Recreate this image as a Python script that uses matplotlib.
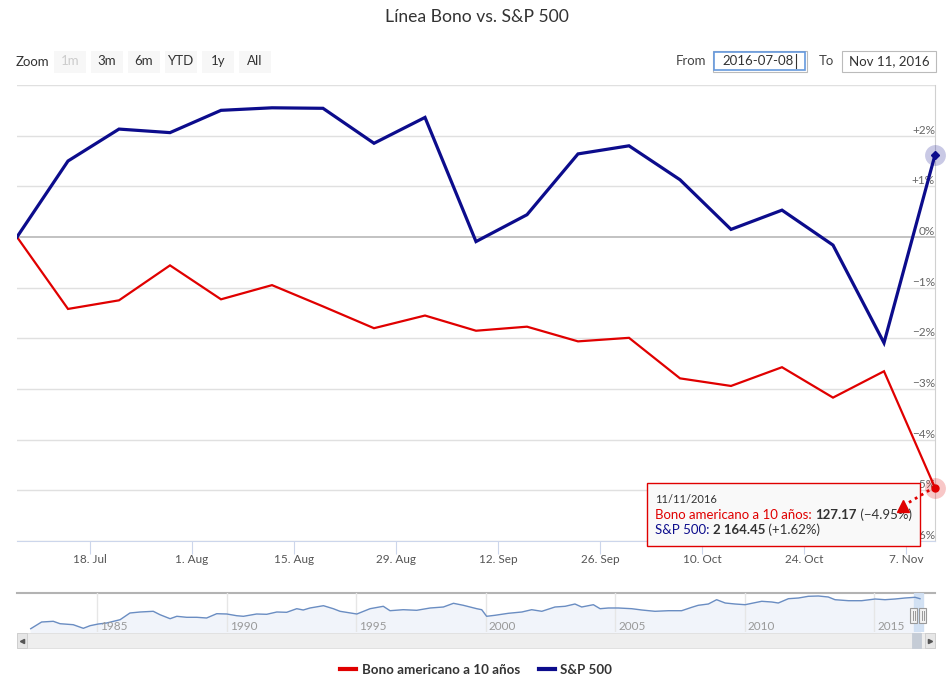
import datetime as dt
import matplotlib
matplotlib.use("Agg")
import matplotlib.pyplot as plt
from matplotlib.patches import Rectangle
from matplotlib.lines import Line2D

# ---------------- data ----------------
dates = ["2016-07-08", "2016-07-15", "2016-07-22", "2016-07-29", "2016-08-05",
         "2016-08-12", "2016-08-19", "2016-08-26", "2016-09-02", "2016-09-09",
         "2016-09-16", "2016-09-23", "2016-09-30", "2016-10-07", "2016-10-14",
         "2016-10-21", "2016-10-28", "2016-11-04", "2016-11-11"]
sp_pct = [0.00, 1.50, 2.13, 2.06, 2.50, 2.55, 2.54, 1.85, 2.36, -0.09,
          0.44, 1.64, 1.80, 1.13, 0.15, 0.53, -0.16, -2.09, 1.62]
bond_pct = [0.00, -1.42, -1.25, -0.56, -1.23, -0.95, -1.37, -1.80, -1.55, -1.85,
            -1.77, -2.06, -1.99, -2.79, -2.94, -2.57, -3.17, -2.65, -4.95]
series_names = ["Bono americano a 10 años", "S&P 500"]
last_values = ["127.17", "2 164.45"]
last_changes = [" (−4.95%)", " (+1.62%)"]
tooltip_date = "11/11/2016"

y_ticks = [-6, -5, -4, -3, -2, -1, 0, 1, 2, 3]
y_labels = ["−6%", "−5%", "−4%", "−3%", "−2%", "−1%", "0%", "+1%", "+2%", ""]
x_ticks = ["2016-07-18", "2016-08-01", "2016-08-15", "2016-08-29", "2016-09-12",
           "2016-09-26", "2016-10-10", "2016-10-24", "2016-11-07"]
x_labels = ["18. Jul", "1. Aug", "15. Aug", "29. Aug", "12. Sep",
            "26. Sep", "10. Oct", "24. Oct", "7. Nov"]

# navigator (long history, read from the small overview strip)
nav_years = [1982.43, 1982.85, 1983.30, 1983.56, 1984.07, 1984.46, 1984.72, 1985.04,
             1985.36, 1985.88, 1986.26, 1986.65, 1987.16, 1987.42, 1987.81, 1988.07,
             1988.45, 1988.84, 1989.22, 1989.61, 1990.00, 1990.38, 1990.64, 1991.15,
             1991.54, 1991.93, 1992.31, 1992.70, 1992.95, 1993.21, 1993.73, 1994.11,
             1994.37, 1995.02, 1995.53, 1996.04, 1996.30, 1996.81, 1997.33, 1997.85,
             1998.36, 1998.75, 1999.13, 1999.65, 1999.84, 2000.03, 2000.35, 2000.87,
             2001.39, 2001.77, 2002.16, 2002.67, 2003.06, 2003.44, 2003.70, 2004.15,
             2004.41, 2004.73, 2005.12, 2005.63, 2006.02, 2006.53, 2007.05, 2007.56,
             2007.95, 2008.20, 2008.59, 2008.91, 2009.24, 2009.62, 2010.01, 2010.27,
             2010.65, 2011.04, 2011.29, 2011.68, 2012.07, 2012.45, 2012.84, 2013.22,
             2013.48, 2014.00, 2014.51, 2015.03, 2015.41, 2015.80, 2016.18, 2016.57,
             2016.76]
nav_levels = [3.3, 10.0, 10.7, 8.3, 7.3, 3.7, 6.3, 8.0,
              9.0, 12.3, 19.0, 20.0, 20.7, 17.3, 13.3, 15.7,
              14.7, 14.7, 14.0, 18.3, 18.0, 16.3, 15.7, 18.0,
              17.7, 20.0, 19.7, 23.3, 22.0, 24.0, 26.3, 23.3,
              20.7, 18.0, 23.3, 25.7, 21.3, 22.3, 21.7, 24.0,
              25.0, 28.7, 26.7, 23.3, 22.3, 15.7, 16.7, 18.7,
              20.0, 22.3, 20.7, 25.0, 25.7, 28.0, 25.0, 27.3,
              23.3, 24.0, 24.0, 23.3, 22.0, 20.7, 21.3, 21.3,
              24.7, 26.7, 28.0, 32.3, 29.0, 28.0, 27.3, 28.7,
              30.7, 30.0, 29.0, 33.3, 34.0, 35.7, 36.0, 35.0,
              32.3, 31.3, 31.3, 33.0, 32.3, 33.0, 34.0, 34.7,
              33.3]
nav_year_ticks = [1985, 1990, 1995, 2000, 2005, 2010, 2015]
zoom_buttons = ["1m", "3m", "6m", "YTD", "1y", "All"]

# ---------------- style ----------------
W, H = 953, 683
RED = "#e00000"
BLUE = "#0c0c8c"
FONT = ["Lato", "DejaVu Sans"]
plt.rcParams["font.family"] = FONT

fig = plt.figure(figsize=(W / 100, H / 100), dpi=100)
fig.patch.set_facecolor("white")


def fx(x):
    return x / W


def fy(y):
    return 1 - y / H


def rect(x0, y0, x1, y1, **kw):
    r = Rectangle((fx(x0), fy(y1)), fx(x1) - fx(x0), fy(y0) - fy(y1),
                  transform=fig.transFigure, **kw)
    fig.add_artist(r)
    return r


# title
fig.text(0.5, fy(17), "Línea Bono vs. S&P 500", ha="center", va="center",
         fontsize=12.6, color="#333333")

# zoom buttons
fig.text(fx(16), fy(61.5), "Zoom", ha="left", va="center", fontsize=9.5, color="#333333")
btn_x = [(54, 86), (91, 123), (128, 160), (165, 197), (202, 234), (239, 271)]
for (x0, x1), lab in zip(btn_x, zoom_buttons):
    rect(x0, 51, x1, 73, facecolor="#f7f7f7", edgecolor="none")
    fig.text(fx((x0 + x1) / 2), fy(61), lab, ha="center", va="center", fontsize=9.5,
             color="#cccccc" if lab == "1m" else "#333333")

# range inputs
fig.text(fx(676), fy(61), "From", ha="left", va="center", fontsize=9.5, color="#444444")
rect(713, 51, 807, 72, facecolor="white", edgecolor="#bbbbbb", lw=0.8)
rect(714, 52, 805, 70, facecolor="white", edgecolor="#6699dd", lw=1.2)
fig.text(fx(722), fy(61), "2016-07-08", ha="left", va="center", fontsize=9.5, color="#333333")
fig.add_artist(Line2D([fx(796.5), fx(796.5)], [fy(54), fy(68)], color="#333333", lw=0.8,
                      transform=fig.transFigure))
fig.text(fx(819), fy(61), "To", ha="left", va="center", fontsize=9.5, color="#444444")
rect(842, 51, 936, 72, facecolor="white", edgecolor="#bbbbbb", lw=0.8)
fig.text(fx(849), fy(61), "Nov 11, 2016", ha="left", va="center", fontsize=9.5, color="#333333")

# ---------------- main chart ----------------
d = [dt.datetime.strptime(s, "%Y-%m-%d") for s in dates]
ax = fig.add_axes([fx(17), fy(541), fx(935) - fx(17), fy(85) - fy(541)])
ax.set_xlim(d[0], d[-1])
ax.set_ylim(-6, 3)
for v in y_ticks:
    ax.axhline(v, color="#bdbdbd" if v == 0 else "#e0e0e0",
               lw=1.3 if v == 0 else 1.0, zorder=0)
for s in ["left", "top"]:
    ax.spines[s].set_visible(False)
ax.spines["right"].set_color("#d0d0d0")
ax.spines["bottom"].set_color("#ccd6eb")
ax.set_yticks([])
xt = [dt.datetime.strptime(s, "%Y-%m-%d") for s in x_ticks]
ax.set_xticks(xt)
ax.set_xticklabels(x_labels)
ax.tick_params(axis="x", length=9, color="#ccd6eb", labelsize=8.5, labelcolor="#555555", pad=0.5)

for v, lab in zip(y_ticks, y_labels):
    ax.annotate(lab, xy=(1.0, v), xycoords=("axes fraction", "data"),
                xytext=(0, 0), textcoords="offset points",
                ha="right", va="bottom", fontsize=8.5, color="#666666", zorder=1)

ax.plot(d, bond_pct, color=RED, lw=1.6, zorder=3, solid_joinstyle="miter")
ax.plot(d, sp_pct, color=BLUE, lw=2.3, zorder=4, solid_joinstyle="miter")

# hover halos on last point
ax.plot([d[-1]], [sp_pct[-1]], "o", ms=15, color=BLUE, alpha=0.22, mec="none", clip_on=False, zorder=5)
ax.plot([d[-1]], [sp_pct[-1]], "D", ms=4, color=BLUE, clip_on=False, zorder=6)
ax.plot([d[-1]], [bond_pct[-1]], "o", ms=15, color=RED, alpha=0.22, mec="none", clip_on=False, zorder=5)
ax.plot([d[-1]], [bond_pct[-1]], "o", ms=5, color=RED, clip_on=False, zorder=6)

# tooltip
rect(647, 483, 920, 546, facecolor="#f9f9f9", edgecolor=RED, lw=1.0, zorder=10)
renderer = fig.canvas.get_renderer()


def rich(x_px, y_px, parts, size=9.5):
    x = x_px
    for s, col, wt in parts:
        t = fig.text(fx(x), fy(y_px), s, ha="left", va="baseline", fontsize=size,
                     color=col, fontweight=wt, zorder=11)
        x += t.get_window_extent(renderer).width


rich(655, 503, [(tooltip_date, "#333333", "normal")], size=8)
rich(655, 519, [(series_names[0] + ": ", RED, "normal"),
                (last_values[0], "#333333", "bold"),
                (last_changes[0], "#333333", "normal")])
rich(655, 534, [(series_names[1] + ": ", BLUE, "normal"),
                (last_values[1], "#333333", "bold"),
                (last_changes[1], "#333333", "normal")])
fig.add_artist(Line2D([fx(903), fx(933)], [fy(506), fy(488)], color=RED, lw=2,
                      ls=(0, (1, 1.5)), transform=fig.transFigure, zorder=12))
fig.add_artist(Line2D([fx(903)], [fy(506)], marker="^", ms=8, color=RED, mec=RED,
                      transform=fig.transFigure, zorder=12))

# ---------------- navigator ----------------
nav = fig.add_axes([fx(17), fy(632), fx(935) - fx(17), fy(593) - fy(632)])
nav.set_xlim(1981.90, 2017.34)
nav.set_ylim(0, 39)
nav.set_facecolor("white")
for s in nav.spines.values():
    s.set_visible(False)
nav.axhline(39, color="#b3b3b3", lw=1.5, clip_on=False)
nav.fill_between(nav_years, nav_levels, 0, color="#f1f4fa", zorder=1)
nav.plot(nav_years, nav_levels, color="#6a8dc2", lw=1.0, zorder=3)
for yr in nav_year_ticks:
    nav.axvline(yr, color="#e6e6e6", lw=1, zorder=2)
    nav.text(yr + 0.12, 6, str(yr), ha="left", va="center", fontsize=8.5, color="#999999", zorder=4)
nav.set_xticks([])
nav.set_yticks([])
nav.axvspan(2016.52, 2016.86, color="#cfdff3", alpha=0.9, zorder=2)
for hx in (2016.52, 2016.86):
    hp = Rectangle((hx - 0.14, 9), 0.28, 15, facecolor="#f2f2f2", edgecolor="#999999", lw=0.8, zorder=6)
    nav.add_patch(hp)
    for off in (-0.04, 0.04):
        nav.plot([hx + off, hx + off], [12, 21], color="#999999", lw=0.7, zorder=7)

# scrollbar
rect(17, 633, 935, 648, facecolor="#eeeeee", edgecolor="#dddddd", lw=0.6)
rect(17, 633, 27, 648, facecolor="#e6e6e6", edgecolor="#cccccc", lw=0.6)
rect(925, 633, 935, 648, facecolor="#e6e6e6", edgecolor="#cccccc", lw=0.6)
rect(912, 633, 921, 648, facecolor="#c5ccd6", edgecolor="#c5ccd6", lw=0.6)
fig.add_artist(Line2D([fx(22)], [fy(640.5)], marker="<", ms=3, color="#555555", transform=fig.transFigure))
fig.add_artist(Line2D([fx(930)], [fy(640.5)], marker=">", ms=3, color="#555555", transform=fig.transFigure))

# legend
handles = [Line2D([], [], color=RED, lw=3), Line2D([], [], color=BLUE, lw=3)]
fig.legend(handles, series_names, loc="center", bbox_to_anchor=(fx(476), fy(670)),
           ncol=2, frameon=False, handlelength=1.2, handletextpad=0.4, columnspacing=1.4,
           prop={"weight": "bold", "size": 9.6, "family": FONT}, labelcolor="#333333")

fig.savefig("out.png", dpi=100, facecolor="white")
